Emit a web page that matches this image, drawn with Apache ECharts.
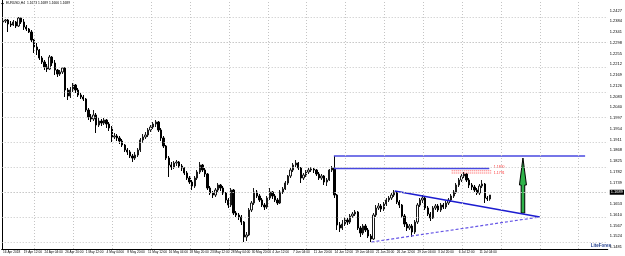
<!DOCTYPE html>
<html>
<head>
<meta charset="utf-8">
<script src="https://cdn.jsdelivr.net/npm/echarts@6/dist/echarts.min.js"></script>
<style>html,body{margin:0;padding:0;background:#fff}#c{width:625px;height:256px}</style>
</head>
<body>
<div id="c"></div>
<script>
// ---- data ----
const symbolTitle = 'EURUSD,H4  1.1673 1.1689 1.1666 1.1689';
const currentPrice = 1.1689;
// time labels every 16 H4 bars (8 candles of this 8-hour view)
const timeLabels = ['16 Apr 2018','19 Apr 12:00','24 Apr 04:00','26 Apr 20:00','1 May 12:00','4 May 04:00','8 May 20:00','11 May 12:00','16 May 04:00','18 May 20:00','23 May 12:00','28 May 04:00','30 May 20:00','4 Jun 12:00','7 Jun 04:00','11 Jun 20:00','14 Jun 12:00','19 Jun 04:00','21 Jun 20:00','26 Jun 12:00','29 Jun 04:00','3 Jul 20:00','6 Jul 12:00','11 Jul 04:00'];
const priceTicks = [1.1481,1.1524,1.1567,1.1610,1.1653,1.1696,1.1739,1.1782,1.1825,1.1868,1.1911,1.1954,1.1997,1.2040,1.2083,1.2126,1.2169,1.2212,1.2255,1.2298,1.2341,1.2384,1.2427];
// week start bars (H4 bar index, Monday 00:00)
const weekStartBars = [25,55,85,115,145,175,205,235,265,295,325,355,385,415,445];
// candles: [open, close, low, high]
const candles = [
[1.2381,1.2385,1.2377,1.2393],[1.2385,1.2389,1.2377,1.2393],[1.2389,1.2373,1.2341,1.2393],[1.2373,1.2369,1.2361,1.2385],
[1.2369,1.2381,1.2365,1.2389],[1.2381,1.2365,1.2357,1.2385],[1.2365,1.2397,1.2361,1.2401],[1.2397,1.2381,1.2373,1.2401],
[1.2381,1.2361,1.2349,1.2393],[1.2361,1.2353,1.2345,1.2369],[1.2353,1.2341,1.2337,1.2357],[1.2341,1.2309,1.2301,1.2349],
[1.2309,1.2281,1.2257,1.2313],[1.2281,1.2269,1.2249,1.2297],[1.2269,1.2237,1.2229,1.2273],[1.2237,1.2221,1.2213,1.2245],
[1.2221,1.2201,1.2189,1.2229],[1.2201,1.2193,1.2181,1.2213],[1.2193,1.2241,1.2189,1.2249],[1.2241,1.2217,1.2205,1.2245],
[1.2217,1.2189,1.2169,1.2229],[1.2189,1.2173,1.2161,1.2193],[1.2173,1.2181,1.2165,1.2189],[1.2181,1.2197,1.2173,1.2201],
[1.2197,1.2109,1.2081,1.2201],[1.2109,1.2085,1.2069,1.2117],[1.2085,1.2109,1.2077,1.2121],[1.2109,1.2129,1.2101,1.2137],
[1.2129,1.2109,1.2097,1.2133],[1.2109,1.2089,1.2081,1.2117],[1.2089,1.2081,1.2073,1.2097],[1.2081,1.2073,1.2065,1.2089],
[1.2073,1.2029,1.2021,1.2077],[1.2029,1.2001,1.1989,1.2037],[1.2001,1.1993,1.1981,1.2013],[1.1993,1.2009,1.1985,1.2029],
[1.2009,1.1969,1.1937,1.2017],[1.1969,1.1985,1.1961,1.1997],[1.1985,1.1977,1.1965,1.1993],[1.1977,1.1989,1.1969,1.1997],
[1.1989,1.1973,1.1957,1.1993],[1.1973,1.1957,1.1945,1.1981],[1.1957,1.1921,1.1901,1.1965],[1.1921,1.1925,1.1913,1.1937],
[1.1925,1.1917,1.1905,1.1933],[1.1917,1.1905,1.1893,1.1925],[1.1905,1.1889,1.1881,1.1913],[1.1889,1.1869,1.1861,1.1893],
[1.1869,1.1861,1.1849,1.1877],[1.1861,1.1845,1.1837,1.1869],[1.1845,1.1837,1.1821,1.1853],[1.1837,1.1849,1.1829,1.1861],
[1.1849,1.1869,1.1841,1.1877],[1.1869,1.1909,1.1861,1.1917],[1.1909,1.1921,1.1897,1.1933],[1.1921,1.1929,1.1913,1.1941],
[1.1929,1.1949,1.1921,1.1957],[1.1949,1.1961,1.1941,1.1969],[1.1961,1.1973,1.1953,1.1981],[1.1973,1.1981,1.1961,1.1989],
[1.1981,1.1949,1.1941,1.1985],[1.1949,1.1917,1.1905,1.1957],[1.1917,1.1885,1.1877,1.1925],[1.1885,1.1837,1.1829,1.1889],
[1.1837,1.1809,1.1761,1.1845],[1.1809,1.1801,1.1789,1.1821],[1.1801,1.1817,1.1793,1.1825],[1.1817,1.1821,1.1805,1.1829],
[1.1821,1.1805,1.1797,1.1825],[1.1805,1.1797,1.1785,1.1813],[1.1797,1.1777,1.1769,1.1801],[1.1777,1.1757,1.1749,1.1785],
[1.1757,1.1741,1.1733,1.1765],[1.1741,1.1725,1.1709,1.1749],[1.1725,1.1757,1.1717,1.1765],[1.1757,1.1781,1.1749,1.1789],
[1.1781,1.1809,1.1773,1.1821],[1.1809,1.1789,1.1781,1.1813],[1.1789,1.1773,1.1761,1.1797],[1.1773,1.1717,1.1709,1.1777],
[1.1717,1.1697,1.1689,1.1725],[1.1697,1.1689,1.1677,1.1705],[1.1689,1.1709,1.1681,1.1717],[1.1709,1.1729,1.1701,1.1737],
[1.1729,1.1717,1.1705,1.1733],[1.1717,1.1697,1.1689,1.1725],[1.1697,1.1669,1.1657,1.1701],[1.1669,1.1649,1.1637,1.1677],
[1.1649,1.1709,1.1641,1.1717],[1.1709,1.1617,1.1609,1.1713],[1.1617,1.1609,1.1601,1.1625],[1.1609,1.1601,1.1589,1.1617],
[1.1601,1.1581,1.1569,1.1609],[1.1581,1.1521,1.1501,1.1585],[1.1521,1.1529,1.1505,1.1541],[1.1529,1.1629,1.1525,1.1637],
[1.1629,1.1657,1.1621,1.1665],[1.1657,1.1701,1.1649,1.1717],[1.1701,1.1685,1.1677,1.1709],[1.1685,1.1669,1.1661,1.1693],
[1.1669,1.1649,1.1641,1.1677],[1.1649,1.1641,1.1629,1.1657],[1.1641,1.1677,1.1633,1.1685],[1.1677,1.1701,1.1669,1.1717],
[1.1701,1.1685,1.1673,1.1705],[1.1685,1.1669,1.1661,1.1693],[1.1669,1.1657,1.1649,1.1677],[1.1657,1.1701,1.1653,1.1709],
[1.1701,1.1713,1.1693,1.1721],[1.1713,1.1737,1.1709,1.1745],[1.1737,1.1765,1.1729,1.1769],[1.1765,1.1789,1.1757,1.1797],
[1.1789,1.1809,1.1781,1.1817],[1.1809,1.1817,1.1801,1.1829],[1.1817,1.1797,1.1789,1.1821],[1.1797,1.1757,1.1737,1.1801],
[1.1757,1.1769,1.1749,1.1777],[1.1769,1.1781,1.1761,1.1789],[1.1781,1.1789,1.1773,1.1797],[1.1789,1.1793,1.1781,1.1801],
[1.1793,1.1789,1.1777,1.1797],[1.1789,1.1773,1.1765,1.1793],[1.1773,1.1757,1.1749,1.1781],[1.1757,1.1765,1.1749,1.1773],
[1.1765,1.1741,1.1729,1.1769],[1.1741,1.1749,1.1725,1.1757],[1.1749,1.1789,1.1745,1.1793],[1.1789,1.1797,1.1781,1.1805],
[1.1797,1.1689,1.1677,1.1845],[1.1689,1.1569,1.1549,1.1693],[1.1569,1.1557,1.1541,1.1581],[1.1557,1.1573,1.1549,1.1589],
[1.1573,1.1589,1.1565,1.1601],[1.1589,1.1581,1.1569,1.1597],[1.1581,1.1605,1.1573,1.1613],[1.1605,1.1613,1.1597,1.1621],
[1.1613,1.1621,1.1605,1.1629],[1.1621,1.1557,1.1549,1.1625],[1.1557,1.1537,1.1521,1.1565],[1.1537,1.1565,1.1529,1.1573],
[1.1565,1.1549,1.1541,1.1573],[1.1549,1.1525,1.1517,1.1557],[1.1525,1.1513,1.1501,1.1533],[1.1513,1.1609,1.1509,1.1617],
[1.1609,1.1637,1.1601,1.1649],[1.1637,1.1645,1.1629,1.1657],[1.1645,1.1633,1.1621,1.1653],[1.1633,1.1653,1.1625,1.1661],
[1.1653,1.1669,1.1645,1.1677],[1.1669,1.1677,1.1661,1.1685],[1.1677,1.1689,1.1669,1.1697],[1.1689,1.1701,1.1681,1.1709],
[1.1701,1.1661,1.1653,1.1705],[1.1661,1.1649,1.1637,1.1669],[1.1649,1.1605,1.1597,1.1653],[1.1605,1.1573,1.1561,1.1613],
[1.1573,1.1557,1.1545,1.1581],[1.1557,1.1565,1.1549,1.1573],[1.1565,1.1541,1.1521,1.1573],[1.1541,1.1581,1.1533,1.1589],
[1.1581,1.1649,1.1573,1.1657],[1.1649,1.1669,1.1641,1.1677],[1.1669,1.1677,1.1657,1.1689],[1.1677,1.1637,1.1629,1.1681],
[1.1637,1.1613,1.1605,1.1645],[1.1613,1.1597,1.1585,1.1621],[1.1597,1.1637,1.1593,1.1645],[1.1637,1.1645,1.1629,1.1653],
[1.1645,1.1629,1.1621,1.1653],[1.1629,1.1649,1.1621,1.1657],[1.1649,1.1641,1.1633,1.1657],[1.1641,1.1657,1.1633,1.1665],
[1.1657,1.1669,1.1649,1.1677],[1.1669,1.1685,1.1661,1.1693],[1.1685,1.1701,1.1677,1.1709],[1.1701,1.1729,1.1693,1.1737],
[1.1729,1.1749,1.1721,1.1757],[1.1749,1.1765,1.1741,1.1773],[1.1765,1.1773,1.1757,1.1781],[1.1773,1.1749,1.1741,1.1777],
[1.1749,1.1729,1.1717,1.1757],[1.1729,1.1721,1.1709,1.1737],[1.1721,1.1709,1.1701,1.1729],[1.1709,1.1697,1.1689,1.1717],
[1.1697,1.1725,1.1689,1.1733],[1.1725,1.1733,1.1717,1.1749],[1.1733,1.1677,1.1657,1.1737],[1.1677,1.1673,1.1665,1.1685],
[1.1673,1.1689,1.1666,1.1689]
];
// drawn objects (time in H4 bar index, price)
const levelLines = [
  {price: 1.1845, fromBar: 256, toBar: 450},
  {price: 1.1795, fromBar: 256, toBar: 376}
];
const trendSolid = [[303, 1.1705], [415, 1.1601]];
const trendDashed = [[285, 1.1501], [415, 1.1601]];
const redLevels = [
  {price: 1.1786, fromBar: 347, toBar: 378, text: '1.1800', dy: -4},
  {price: 1.1777, fromBar: 347, toBar: 378, text: '1.1791', dy: 0}
];
const arrowShape = {bar: 402, fromPrice: 1.1617, toPrice: 1.1837};
const logoText = 'LiteForex';

// ---- chart ----
const slotCount = 234;               // 8-hour slots across the plot
const h4Count = slotCount * 2;
const categories = Array.from({length: slotCount}, (_, j) => String(j));
const FONT = 'Liberation Sans';

const chart = echarts.init(document.getElementById('c'), null, {renderer: 'canvas'});

const series = [];
// grid lines
series.push({
  type: 'line', xAxisIndex: 1, yAxisIndex: 0, data: [], silent: true,
  markLine: {
    silent: true, symbol: ['none', 'none'], animation: false,
    label: {show: false},
    lineStyle: {color: '#c4c4c4', width: 1, type: [1, 2]},
    data: priceTicks.filter((_, k) => k % 2 === 0).map(v => ({yAxis: v}))
      .concat(weekStartBars.map(b => ({xAxis: b})))
  }
});
// candles
series.push({
  type: 'candlestick', xAxisIndex: 0, yAxisIndex: 0, data: candles,
  barWidth: 1.8,
  itemStyle: {color: '#ffffff', color0: '#000000', borderColor: '#1a1a1a', borderColor0: '#000000', borderWidth: 1},
  markLine: {
    silent: true, symbol: ['none', 'none'], animation: false,
    lineStyle: {color: 'rgba(0,0,0,0)', width: 0},
    label: {show: true, position: 'end', distance: 2, formatter: currentPrice.toFixed(4),
      backgroundColor: '#000', color: '#fff', fontSize: 4, fontFamily: FONT, padding: [1, 1, 0, 1]},
    data: [{yAxis: currentPrice}]
  }
});
// horizontal levels
levelLines.forEach(l => series.push({
  type: 'line', xAxisIndex: 1, yAxisIndex: 0, symbol: 'none', silent: true,
  data: [[l.fromBar, l.price], [l.toBar, l.price]],
  lineStyle: {color: '#4848e0', width: 1.5}
}));
// trend lines
series.push({
  type: 'line', xAxisIndex: 1, yAxisIndex: 0, symbol: 'none', silent: true,
  data: trendSolid, lineStyle: {color: '#1c1cd0', width: 1.5}
});
series.push({
  type: 'line', xAxisIndex: 1, yAxisIndex: 0, symbol: 'none', silent: true,
  data: trendDashed, lineStyle: {color: '#6656e6', width: 1.2, type: [3, 2]}
});
// red dotted levels
redLevels.forEach(l => series.push({
  type: 'line', xAxisIndex: 1, yAxisIndex: 0, symbol: 'none', silent: true,
  data: [[l.fromBar, l.price], [l.toBar, l.price]],
  lineStyle: {color: '#ff5050', width: 1, type: [1, 1]},
  endLabel: {show: true, formatter: l.text, color: '#ff3030', fontSize: 3.5, fontFamily: FONT, distance: 2, offset: [0, l.dy]}
}));
// arrow
series.push({
  type: 'custom', xAxisIndex: 1, yAxisIndex: 0, silent: true,
  data: [[arrowShape.bar, arrowShape.fromPrice, arrowShape.toPrice]],
  renderItem: function (params, api) {
    const b = api.coord([api.value(0), api.value(1)]);
    const t = api.coord([api.value(0), api.value(2)]);
    const cx = b[0], hw = 3.5, sw = 1.8, headLen = 27;
    return {
      type: 'polygon',
      shape: {points: [[cx, t[1]], [cx + hw, t[1] + headLen], [cx + sw, t[1] + headLen], [cx + sw, b[1]],
        [cx - sw, b[1]], [cx - sw, t[1] + headLen], [cx - hw, t[1] + headLen]]},
      style: {fill: '#2fb24a', stroke: '#000', lineWidth: 1}
    };
  }
});

chart.setOption({
  animation: false,
  backgroundColor: '#ffffff',
  grid: {left: 0, right: 14, top: 0, bottom: 7, containLabel: false},
  xAxis: [{
    type: 'category', data: categories, boundaryGap: true,
    axisLine: {show: true, lineStyle: {color: '#000', width: 1}},
    axisTick: {show: false},
    splitLine: {show: false},
    axisLabel: {
      interval: (idx) => idx % 8 === 0 && idx / 8 < timeLabels.length,
      formatter: (v, idx) => timeLabels[Math.round(idx / 8)] || '',
      fontSize: 3.2, fontFamily: FONT, color: '#000', align: 'left', margin: 1.5
    }
  }, {
    type: 'value', min: -0.5, max: h4Count - 0.5, show: false,
    axisLine: {show: false}, axisLabel: {show: false}, splitLine: {show: false}, axisTick: {show: false}
  }],
  yAxis: [{
    type: 'value', position: 'right', min: 1.1473, max: 1.2469, scale: true,
    axisLine: {show: true, lineStyle: {color: '#000', width: 1}},
    axisTick: {show: false},
    splitLine: {show: false},
    axisLabel: {
      customValues: priceTicks.filter(v => Math.abs(v - currentPrice) > 0.001),
      formatter: v => v.toFixed(4), fontSize: 4, fontFamily: FONT, color: '#000', margin: 2
    }
  }],
  graphic: [
    {type: 'polygon', shape: {points: [[1, 3], [4, 3], [2.5, 5]]}, style: {fill: '#000'}},
    {type: 'text', left: 6, top: 2, style: {text: symbolTitle, fontSize: 3.3, fontFamily: FONT, fill: '#000'}},
    {type: 'text', right: 14, bottom: 8, style: {text: logoText, fontSize: 4.5, fontWeight: 'bold', fontFamily: FONT, fill: '#1e3c8c'}}
  ],
  series: series
});
</script>
</body>
</html>
